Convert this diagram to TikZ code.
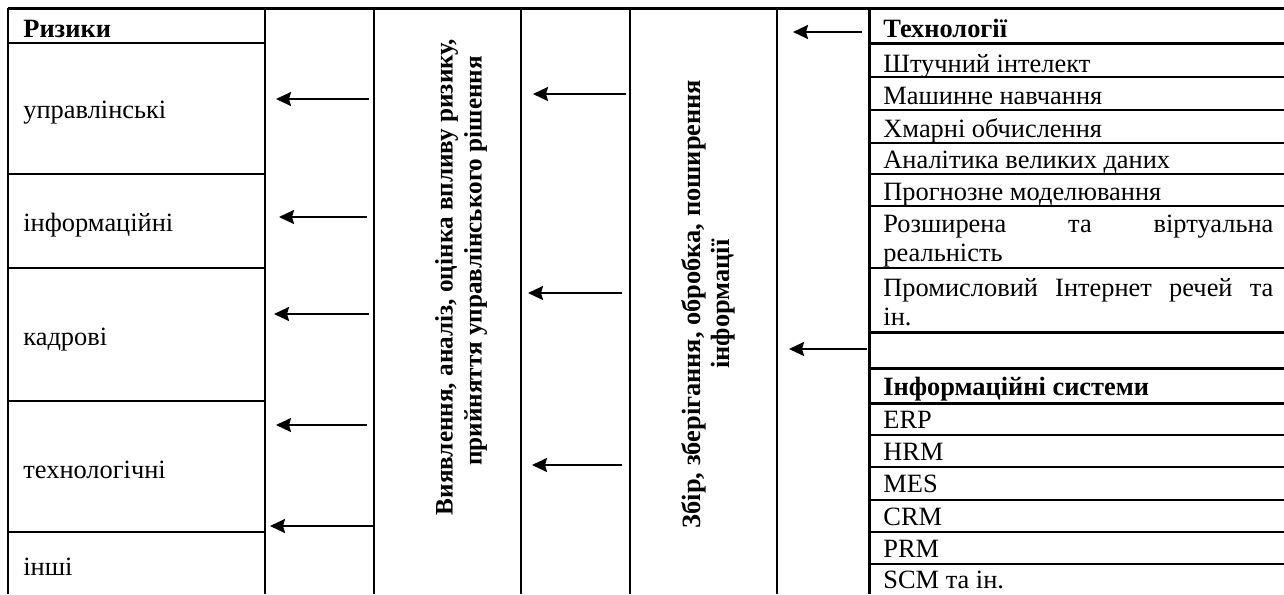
\documentclass[tikz,border=0pt]{standalone}
\usepackage{fontspec}
\setmainfont{Liberation Serif}
\usetikzlibrary{arrows.meta, positioning}
\tikzset{
  cell/.style = {anchor=base west, inner sep=0pt,
    font=\fontsize{13.2}{14.5}\selectfont},
  head/.style = {cell, font=\fontsize{13.2}{14.5}\selectfont\bfseries},
  wide/.style = {cell, text width=195pt, align=left},
  vert/.style = {rotate=90, align=center, inner sep=0pt,
    font=\fontsize{13.2}{14.5}\selectfont\bfseries},
  tline/.style = {line width=1pt},
  tlinethick/.style = {line width=1.5pt},
  arr/.style = {->, >={Stealth[length=7.5pt, width=7pt, inset=1pt]},
    line width=1.1pt}
}

\begin{document}
\begin{tikzpicture}[x=0.5pt, y=-0.5pt]
\useasboundingbox (0,0) rectangle (1284,594);
% frame and columns
\draw[tlinethick] (8,8) -- (1284,8);
\foreach \x in {8,265,374,521,630,777}
  \draw[tline] (\x,8) -- (\x,594);
\draw[tlinethick] (869,8) -- (869,594);
% risks
\foreach \y in {43,174,268,401,532}
  \draw[tline] (8,\y) -- (265,\y);
% technologies and systems
\foreach \y in {77,110,143,174,206,268,435,467,500,532,564}
  \draw[tline] (869,\y) -- (1284,\y);
\foreach \y in {43,332,368,403}
  \draw[tlinethick] (869,\y) -- (1284,\y);

\node[head] (riz) at (23,37) {Ризики};
\node[cell] (upr) at (23,118) {управлінські};
\node[cell] (inf) at (23,231) {інформаційні};
\node[cell] (kad) at (23,345) {кадрові};
\node[cell] (teh) at (23,478) {технологічні};
\node[cell] (insh) at (23,575) {інші};

\node[vert, font=\fontsize{12.6}{14.5}\selectfont\bfseries] (vyav) at (461,277)
  {Виявлення, аналіз, оцінка впливу ризику,\\\hspace*{16pt}прийняття управлінського рішення};
\node[vert] (zbir) at (708,304) {Збір, зберігання, обробка, поширення\\інформації};

\node[head] (tech) at (883,37) {Технології};
\node[cell] (ai) at (883,72) {Штучний інтелект};
\node[cell] (ml) at (883,104) {Машинне навчання};
\node[cell] (cloud) at (883,137) {Хмарні обчислення};
\node[cell] (bigd) at (883,168) {Аналітика великих даних};
\node[cell] (prog) at (883,200) {Прогнозне моделювання};
\node[wide] (vr) at (883,232) {Розширена\hfill та\hfill віртуальна\\реальність};
\node[wide] (iot) at (883,296) {Промисловий\hfill Інтернет\hfill речей\hfill та\\ін.};
\node[head] (is) at (883,395) {Інформаційні системи};
\node[cell] (erp) at (883,428) {ERP};
\node[cell] (hrm) at (883,460) {HRM};
\node[cell] (mes) at (883,492) {MES};
\node[cell] (crm) at (883,525) {CRM};
\node[cell] (prm) at (883,557) {PRM};
\node[cell] (scm) at (883,588) {SCM та ін.};

% arrows
\foreach \n/\xa/\xb/\y in {a/369/276/99, b/367/279/217, c/369/274/314,
    d/367/276/425, e/373/270/526, f/626/533/94, g/622/528/293,
    h/622/532/465, i/862/793/32, k/867/789/349}{
  \coordinate (\n1) at (\xa,\y);
  \coordinate (\n2) at (\xb,\y);
  \draw[arr] (\n1) -- (\n2);
}
\end{tikzpicture}
\end{document}
